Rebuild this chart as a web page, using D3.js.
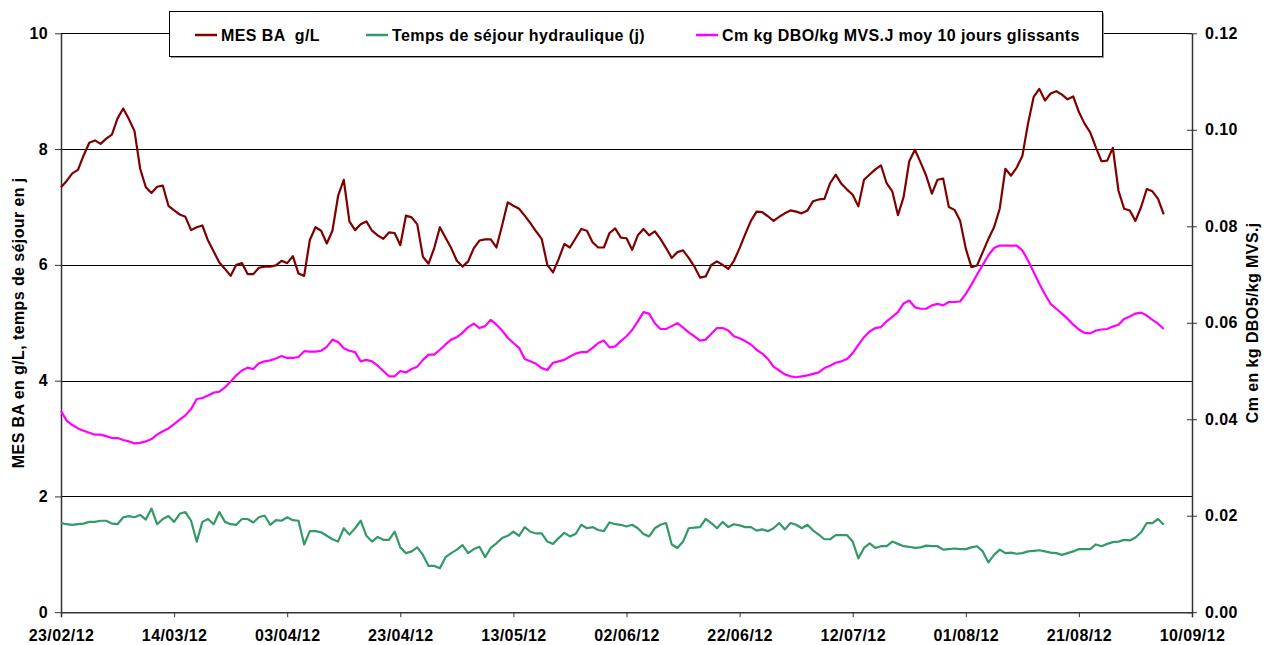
<!DOCTYPE html>
<html>
<head>
<meta charset="utf-8">
<title>MES BA / temps de séjour / Cm</title>
<script src="https://cdnjs.cloudflare.com/ajax/libs/d3/7.8.5/d3.min.js"></script>
<style>
	body { margin: 0; background: #fff; }
	svg { display: block; font-family: "Liberation Sans", Arial, sans-serif; font-weight: bold; letter-spacing: 0.4px; }
	.axis text { font-size: 16px; font-weight: bold; fill: #000; }
	.axis path.domain { stroke: #333; stroke-width: 1.5; }
	.axis line { stroke: #333; }
</style>
</head>
<body>
<svg id="chart" width="1274" height="645"></svg>
<script>
// daily series, first day = 23/02/12
const firstDay = "23/02/12"
const lastTick = "10/09/12"

const mesBA = [
	7.34, 7.45, 7.58, 7.64, 7.89, 8.11, 8.15, 8.09, 8.18, 8.25,
	8.53, 8.70, 8.52, 8.31, 7.66, 7.34, 7.24, 7.35, 7.37, 7.02,
	6.94, 6.87, 6.83, 6.60, 6.65, 6.68, 6.42, 6.23, 6.04, 5.93,
	5.81, 6.00, 6.03, 5.84, 5.84, 5.95, 5.97, 5.97, 5.99, 6.07,
	6.03, 6.15, 5.85, 5.81, 6.43, 6.65, 6.59, 6.37, 6.59, 7.19,
	7.47, 6.75, 6.60, 6.70, 6.75, 6.59, 6.51, 6.45, 6.56, 6.55,
	6.34, 6.85, 6.82, 6.70, 6.14, 6.02, 6.29, 6.65, 6.47, 6.29,
	6.07, 5.97, 6.06, 6.29, 6.42, 6.44, 6.44, 6.30, 6.68, 7.08,
	7.02, 6.97, 6.85, 6.72, 6.58, 6.45, 6.00, 5.87, 6.10, 6.36,
	6.30, 6.46, 6.62, 6.59, 6.39, 6.30, 6.30, 6.55, 6.63, 6.47,
	6.46, 6.26, 6.51, 6.62, 6.51, 6.58, 6.45, 6.29, 6.12, 6.22,
	6.25, 6.12, 5.97, 5.78, 5.80, 6.00, 6.06, 6.00, 5.93, 6.07,
	6.29, 6.53, 6.76, 6.92, 6.91, 6.84, 6.76, 6.83, 6.89, 6.94,
	6.92, 6.89, 6.94, 7.10, 7.13, 7.14, 7.41, 7.56, 7.40, 7.30,
	7.21, 7.01, 7.47, 7.56, 7.65, 7.72, 7.41, 7.27, 6.86, 7.17,
	7.79, 7.99, 7.77, 7.54, 7.23, 7.47, 7.49, 7.00, 6.95, 6.76,
	6.28, 5.96, 5.99, 6.22, 6.45, 6.65, 6.97, 7.66, 7.54, 7.68,
	7.88, 8.44, 8.90, 9.04, 8.84, 8.96, 9.00, 8.94, 8.86, 8.91,
	8.64, 8.44, 8.29, 8.03, 7.79, 7.80, 8.02, 7.28, 6.97, 6.94,
	6.76, 7.00, 7.31, 7.27, 7.14, 6.87
]

const tempsSejour = [
	1.54, 1.52, 1.51, 1.52, 1.53, 1.56, 1.56, 1.58, 1.58, 1.53,
	1.52, 1.64, 1.66, 1.64, 1.68, 1.60, 1.79, 1.52, 1.61, 1.66,
	1.56, 1.70, 1.73, 1.58, 1.22, 1.56, 1.61, 1.52, 1.73, 1.56,
	1.52, 1.51, 1.61, 1.61, 1.55, 1.64, 1.67, 1.51, 1.59, 1.58,
	1.64, 1.59, 1.58, 1.17, 1.40, 1.40, 1.38, 1.32, 1.26, 1.22,
	1.45, 1.34, 1.45, 1.58, 1.32, 1.22, 1.30, 1.25, 1.25, 1.39,
	1.12, 1.02, 1.05, 1.12, 0.99, 0.80, 0.80, 0.76, 0.95, 1.02,
	1.08, 1.16, 1.02, 1.09, 1.13, 0.95, 1.11, 1.19, 1.28, 1.32,
	1.39, 1.32, 1.47, 1.39, 1.36, 1.36, 1.22, 1.18, 1.28, 1.37,
	1.31, 1.35, 1.51, 1.45, 1.47, 1.42, 1.40, 1.55, 1.52, 1.51,
	1.48, 1.51, 1.45, 1.35, 1.31, 1.45, 1.51, 1.54, 1.17, 1.11,
	1.22, 1.45, 1.46, 1.47, 1.61, 1.54, 1.45, 1.56, 1.47, 1.52,
	1.50, 1.47, 1.47, 1.41, 1.43, 1.40, 1.45, 1.54, 1.43, 1.54,
	1.51, 1.45, 1.51, 1.41, 1.34, 1.26, 1.26, 1.33, 1.33, 1.33,
	1.22, 0.93, 1.11, 1.19, 1.11, 1.14, 1.14, 1.22, 1.18, 1.14,
	1.13, 1.11, 1.12, 1.15, 1.14, 1.14, 1.08, 1.09, 1.10, 1.09,
	1.09, 1.12, 1.14, 1.05, 0.86, 0.99, 1.08, 1.02, 1.03, 1.01,
	1.02, 1.05, 1.06, 1.07, 1.05, 1.03, 1.02, 0.99, 1.02, 1.05,
	1.09, 1.09, 1.09, 1.17, 1.14, 1.18, 1.21, 1.22, 1.25, 1.24,
	1.29, 1.38, 1.54, 1.54, 1.61, 1.51
]

const cmDBO = [
	.0417, .0397, .0388, .0381, .0376, .0372, .0368, .0368, .0365, .0361,
	.0361, .0357, .0354, .0350, .0351, .0354, .0359, .0368, .0375, .0381,
	.0390, .0399, .0408, .0421, .0442, .0444, .0449, .0455, .0457, .0466,
	.0478, .0491, .0501, .0507, .0504, .0516, .0520, .0522, .0526, .0531,
	.0527, .0527, .0529, .0541, .0540, .0540, .0542, .0550, .0565, .0560,
	.0547, .0542, .0539, .0520, .0523, .0520, .0511, .0500, .0489, .0489,
	.0500, .0497, .0504, .0509, .0523, .0534, .0534, .0544, .0555, .0565,
	.0570, .0579, .0591, .0598, .0589, .0593, .0606, .0596, .0584, .0569,
	.0558, .0548, .0525, .0520, .0515, .0506, .0502, .0517, .0520, .0523,
	.0530, .0536, .0539, .0539, .0548, .0558, .0563, .0549, .0551, .0562,
	.0572, .0585, .0603, .0622, .0619, .0599, .0587, .0587, .0593, .0599,
	.0590, .0580, .0572, .0563, .0565, .0577, .0589, .0589, .0584, .0572,
	.0568, .0562, .0555, .0544, .0536, .0525, .0509, .0501, .0493, .0489,
	.0487, .0489, .0491, .0494, .0497, .0506, .0511, .0517, .0520, .0525,
	.0537, .0554, .0570, .0582, .0589, .0591, .0603, .0612, .0622, .0640,
	.0646, .0632, .0629, .0629, .0636, .0639, .0636, .0643, .0643, .0644,
	.0660, .0679, .0700, .0720, .0740, .0755, .0760, .0760, .0760, .0760,
	.0750, .0729, .0705, .0681, .0659, .0639, .0629, .0619, .0608, .0596,
	.0586, .0579, .0578, .0584, .0586, .0587, .0592, .0596, .0608, .0613,
	.0619, .0621, .0615, .0606, .0598, .0587
]

const xTickLabels = ["23/02/12", "14/03/12", "03/04/12", "23/04/12", "13/05/12", "02/06/12",
	"22/06/12", "12/07/12", "01/08/12", "21/08/12", "10/09/12"]
const leftTicks = [0, 2, 4, 6, 8, 10]
const rightTicks = [0, 0.02, 0.04, 0.06, 0.08, 0.10, 0.12]

const seriesNames = ["MES BA  g/L", "Temps de séjour hydraulique (j)", "Cm kg DBO/kg MVS.J moy 10 jours glissants"]
const seriesColors = ["#800000", "#339966", "#ff00ff"]
const leftTitle = "MES BA en g/L, temps de séjour en j"
const rightTitle = "Cm en kg DBO5/kg MVS.j"

const parse = d3.utcParse("%d/%m/%y")
const fmt = d3.utcFormat("%d/%m/%y")
const start = parse(firstDay)
const dates = d3.utcDay.range(start, d3.utcDay.offset(start, mesBA.length))

// plot area
const plotLeft = 61, plotRight = 1192, plotTop = 33.3, plotBottom = 612.2

const x = d3.scaleUtc().domain([start, parse(lastTick)]).range([plotLeft, plotRight])
const yL = d3.scaleLinear().domain([0, 10]).range([plotBottom, plotTop])
const yR = d3.scaleLinear().domain([0, 0.12]).range([plotBottom, plotTop])

const svg = d3.select("#chart")

// horizontal grid
svg.append("g").selectAll("line")
	.data(leftTicks.filter(d => d > 0)).enter()
	.append("line")
	.attr("x1", plotLeft).attr("x2", plotRight)
	.attr("y1", d => Math.round(yL(d)) + 0.5).attr("y2", d => Math.round(yL(d)) + 0.5)
	.attr("stroke", "#000").attr("stroke-width", 1)

// axes
svg.append("g").attr("class", "axis")
	.attr("transform", `translate(0,${plotBottom})`)
	.call(d3.axisBottom(x).tickValues(xTickLabels.map(parse)).tickFormat(fmt)
		.tickSize(5).tickPadding(12))

svg.append("g").attr("class", "axis")
	.attr("transform", `translate(${plotLeft},0)`)
	.call(d3.axisLeft(yL).tickValues(leftTicks).tickFormat(d3.format("d"))
		.tickSize(6).tickSizeOuter(0).tickPadding(7))

const rAxis = svg.append("g").attr("class", "axis")
	.attr("transform", `translate(${plotRight},0)`)
	.call(d3.axisRight(yR).tickValues(rightTicks).tickFormat(d3.format(".2f"))
		.tickSize(5).tickSizeOuter(0).tickPadding(8))
rAxis.selectAll(".tick line").attr("x1", -5)

// lines
const lineL = vals => d3.line().x((d, i) => x(dates[i])).y(d => yL(d))(vals)
const lineR = vals => d3.line().x((d, i) => x(dates[i])).y(d => yR(d))(vals)

svg.append("path").attr("d", lineL(tempsSejour))
	.attr("fill", "none").attr("stroke", seriesColors[1]).attr("stroke-width", 2.2)
	.attr("stroke-linejoin", "round")
svg.append("path").attr("d", lineR(cmDBO))
	.attr("fill", "none").attr("stroke", seriesColors[2]).attr("stroke-width", 2.2)
	.attr("stroke-linejoin", "round")
svg.append("path").attr("d", lineL(mesBA))
	.attr("fill", "none").attr("stroke", seriesColors[0]).attr("stroke-width", 2.2)
	.attr("stroke-linejoin", "round")

// axis titles
svg.append("text").text(leftTitle)
	.attr("transform", `translate(24,${(plotTop + plotBottom) / 2}) rotate(-90)`)
	.attr("text-anchor", "middle").attr("font-size", 16)
svg.append("text").text(rightTitle)
	.attr("transform", `translate(1258,${(plotTop + plotBottom) / 2}) rotate(-90)`)
	.attr("text-anchor", "middle").attr("font-size", 16)

// legend
const legend = svg.append("g")
legend.append("rect")
	.attr("x", 171).attr("y", 13).attr("width", 933).attr("height", 45)
	.attr("fill", "#999")
legend.append("rect")
	.attr("x", 169.5).attr("y", 11.5).attr("width", 933).attr("height", 45)
	.attr("fill", "#fff").attr("stroke", "#000").attr("stroke-width", 1)
const legendX = [195, 366, 696]
seriesNames.forEach((name, i) => {
	legend.append("line")
		.attr("x1", legendX[i]).attr("x2", legendX[i] + 22)
		.attr("y1", 35).attr("y2", 35)
		.attr("stroke", seriesColors[i]).attr("stroke-width", 2.5)
	legend.append("text").text(name)
		.attr("x", legendX[i] + 26).attr("y", 41)
		.attr("font-size", 16)
		.style("white-space", "pre")
})
</script>
</body>
</html>
